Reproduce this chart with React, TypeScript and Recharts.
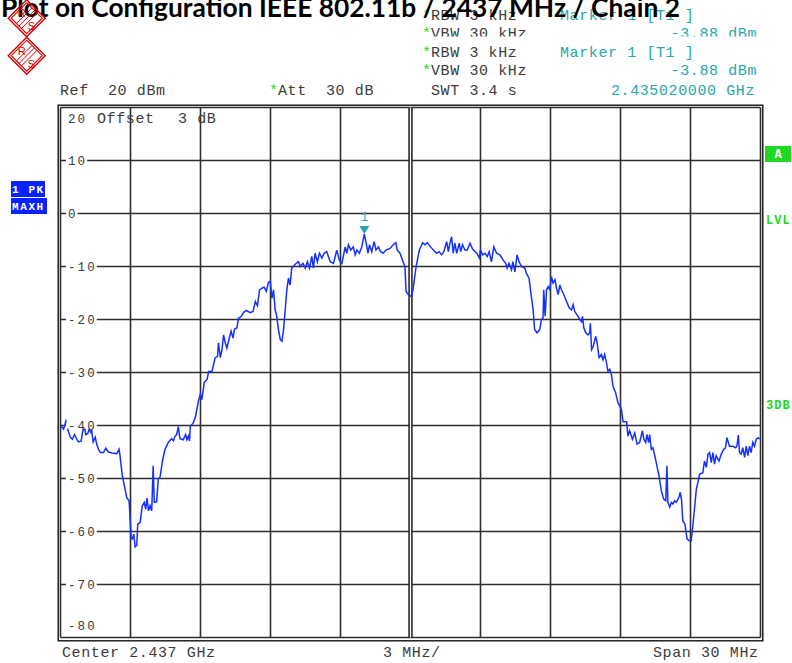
import { LineChart, Line, XAxis, YAxis, CartesianGrid, ReferenceLine, ReferenceDot } from "recharts";

// trace: offset from 2.437 GHz (MHz) and level (dBm)
const freqMHz = [
  -15.0, -14.87, -14.77, -14.69, -14.58, -14.49, -14.4, -14.3, -14.23, -14.11,
  -14.06, -13.97, -13.92, -13.83, -13.77, -13.7, -13.66, -13.6, -13.51, -13.45,
  -13.37, -13.29, -13.16, -13.06, -12.95, -12.8, -12.59, -12.49, -12.45, -12.35,
  -12.26, -12.16, -12.06, -11.97, -11.92, -11.86, -11.8, -11.73, -11.69, -11.59,
  -11.49, -11.41, -11.35, -11.29, -11.23, -11.16, -11.09, -11.03, -10.98, -10.88,
  -10.81, -10.73, -10.63, -10.52, -10.38, -10.24, -10.16, -10.09, -10.02, -9.95,
  -9.88, -9.74, -9.64, -9.58, -9.52, -9.47, -9.44, -9.31, -9.21, -9.09,
  -9.01, -8.94, -8.84, -8.72, -8.65, -8.51, -8.37, -8.27, -8.23, -8.15,
  -8.08, -8.01, -7.94, -7.87, -7.75, -7.69, -7.61, -7.54, -7.44, -7.37,
  -7.27, -7.16, -7.04, -6.87, -6.75, -6.65, -6.56, -6.47, -6.37, -6.27,
  -6.18, -6.09, -6.01, -5.94, -5.87, -5.8, -5.73, -5.66, -5.58, -5.51,
  -5.44, -5.37, -5.3, -5.23, -5.16, -5.09, -5.02, -4.9, -4.8,
  -4.73, -4.61, -4.51, -4.42, -4.33, -4.23, -4.16, -4.09, -3.99, -3.9,
  -3.8, -3.7, -3.59, -3.44, -3.3, -3.16, -3.05, -2.94, -2.8, -2.73,
  -2.66, -2.56, -2.45, -2.37, -2.3, -2.19, -2.09, -1.98, -1.88, -1.82,
  -1.76, -1.66, -1.56, -1.48, -1.38, -1.28, -1.17, -1.05, -0.88, -0.74,
  -0.63, -0.57, -0.45, -0.34, -0.24, -0.19, -0.09, 0.05, 0.12, 0.24,
  0.38, 0.52, 0.62, 0.72, 0.86, 0.98, 1.12, 1.23, 1.33, 1.43,
  1.55, 1.62, 1.69, 1.76, 1.83, 1.9, 1.98, 2.09, 2.15, 2.23,
  2.33, 2.43, 2.55, 2.66, 2.84, 2.95, 3.0, 3.09, 3.19, 3.29,
  3.37, 3.47, 3.57, 3.69, 3.83, 3.97, 4.08, 4.14, 4.22, 4.33,
  4.39, 4.47, 4.57, 4.65, 4.76, 4.9, 4.97, 5.08, 5.18, 5.25,
  5.32, 5.42, 5.54, 5.61, 5.68, 5.71, 5.77, 5.83, 5.9, 5.97,
  6.04, 6.11, 6.19, 6.26, 6.33, 6.4, 6.47, 6.54, 6.69, 6.8,
  6.9, 6.97, 7.04, 7.18, 7.26, 7.33, 7.37, 7.43, 7.51, 7.61,
  7.68, 7.71, 7.76, 7.83, 7.9, 7.94, 8.0, 8.08, 8.18, 8.25,
  8.32, 8.4, 8.46, 8.54, 8.61, 8.68, 8.79, 8.89, 8.97, 9.04,
  9.11, 9.26, 9.32, 9.39, 9.51, 9.61, 9.71, 9.82, 9.94, 10.0,
  10.08, 10.13, 10.21, 10.25, 10.32, 10.39, 10.47, 10.56, 10.65, 10.75,
  10.85, 10.94, 10.99, 11.03, 11.11, 11.18, 11.25, 11.32, 11.39, 11.5,
  11.56, 11.62, 11.67, 11.76, 11.85, 11.93, 12.03, 12.1, 12.17, 12.25,
  12.32, 12.39, 12.53, 12.6, 12.68, 12.75, 12.82, 12.89, 12.96, 13.03,
  13.1, 13.22, 13.32, 13.42, 13.5, 13.56, 13.67, 13.81, 13.93, 13.99,
  14.05, 14.1, 14.17, 14.24, 14.32, 14.39, 14.46, 14.53, 14.6, 14.67,
  14.74, 14.82, 14.9, 14.96,
];

const levelDbm = [
  -40.0, -40.7, -39.2, -40.7, -42.2, -42.6, -41.7, -42.6, -43.1, -42.9,
  -41.3, -40.3, -41.7, -41.5, -40.7, -41.3, -41.0, -43.1, -42.2, -43.5,
  -44.5, -45.1, -45.1, -44.3, -45.0, -45.2, -45.3, -44.5, -45.7, -49.5,
  -51.4, -53.6, -54.2, -61.4, -61.4, -60.5, -62.9, -62.6, -58.6, -58.3,
  -55.1, -54.5, -55.8, -53.7, -56.1, -55.1, -56.1, -47.6, -54.5, -54.4,
  -50.1, -49.7, -46.7, -44.5, -43.2, -42.5, -42.9, -42.0, -41.7, -40.2,
  -42.5, -42.7, -41.7, -42.7, -42.0, -42.9, -40.2, -39.5, -38.2, -35.4,
  -34.1, -35.1, -31.9, -31.3, -29.8, -29.8, -27.2, -27.0, -24.4, -27.2,
  -25.7, -22.9, -24.4, -25.4, -23.2, -22.2, -23.5, -21.8, -21.6, -19.7,
  -19.5, -18.7, -18.3, -18.7, -18.5, -16.6, -17.4, -14.4, -14.1, -13.9,
  -14.7, -13.0, -12.8, -16.0, -14.4, -18.2, -19.4, -21.9, -23.8, -24.1,
  -21.9, -18.2, -14.4, -12.2, -13.5, -10.3, -10.0, -9.4, -9.1,
  -10.0, -9.4, -10.3, -9.1, -10.3, -8.1, -10.3, -7.5, -9.1, -7.5,
  -8.4, -7.5, -7.2, -9.1, -9.4, -6.9, -8.8, -9.4, -6.3, -7.5,
  -5.9, -6.9, -6.3, -7.8, -6.9, -7.5, -6.3, -3.88, -6.0, -7.5,
  -5.9, -7.2, -5.3, -6.9, -6.3, -7.2, -7.5, -6.9, -6.6, -5.9,
  -5.5, -6.9, -7.5, -8.8, -10.0, -14.7, -15.3, -15.7, -14.0, -10.0,
  -6.9, -5.5, -5.9, -5.5, -6.3, -6.9, -7.5, -7.2, -7.8, -7.2,
  -5.3, -7.2, -5.6, -4.4, -7.5, -5.6, -7.5, -5.6, -7.2, -5.9,
  -6.9, -6.9, -5.6, -6.7, -7.5, -8.4, -6.9, -7.8, -7.5, -8.1,
  -7.2, -9.1, -6.3, -7.5, -7.8, -8.8, -9.4, -10.3, -9.4, -10.6,
  -9.1, -11.0, -7.8, -9.1, -10.0, -10.3, -11.3, -12.2, -15.7, -17.9,
  -21.9, -22.5, -21.9, -20.0, -19.7, -14.4, -19.4, -14.4, -13.8, -14.4,
  -11.9, -13.1, -12.5, -14.1, -15.3, -13.5, -14.4, -15.0, -16.6, -17.8,
  -18.2, -17.2, -18.5, -19.4, -20.0, -20.4, -19.4, -21.6, -22.5, -22.9,
  -22.5, -20.7, -25.7, -25.1, -23.8, -23.2, -24.4, -27.2, -26.6, -27.6,
  -26.6, -28.2, -29.8, -29.4, -30.4, -32.6, -33.8, -35.7, -36.3, -37.0,
  -39.3, -39.3, -42.0, -41.0, -42.6, -41.4, -43.5, -43.2, -41.0, -42.6,
  -43.2, -41.7, -43.2, -41.7, -44.5, -44.2, -45.7, -47.6, -49.5, -52.3,
  -53.9, -54.2, -47.6, -54.5, -55.4, -54.5, -54.8, -54.2, -54.5, -53.6,
  -52.6, -54.2, -58.0, -58.6, -61.4, -61.7, -61.7, -58.9, -55.8, -52.0,
  -50.7, -49.2, -48.9, -46.7, -47.9, -45.4, -45.1, -47.0, -45.1, -47.3,
  -45.7, -46.7, -45.4, -44.5, -44.2, -42.3, -43.9, -43.9, -44.2, -43.9,
  -41.8, -45.1, -45.4, -44.2, -46.0, -43.9, -45.7, -43.9, -45.1, -43.2,
  -43.9, -42.6, -42.3, -42.6,
];

const freqTicks = [-15, -12, -9, -6, -3, 0, 3, 6, 9, 12, 15];
const levelTicks = [20, 10, 0, -10, -20, -30, -40, -50, -60, -70, -80];
const markerFreq = -1.98;
const markerLevel = -3.88;

const MONO = '"Liberation Mono", "DejaVu Sans Mono", monospace';
const GRAY = "#3c3c3c";
const TEAL = "#26a8aa";
const GREEN = "#20d820";
const BLUE = "#0a22ff";
const RS_RED = "#d40000";

// analyzer font: every character takes 9.6 px, spaces kept as typed
function mono(size: number) {
  return {
    fontFamily: MONO,
    fontSize: size,
    letterSpacing: 9.6 - size * 0.6,
    xmlSpace: "preserve",
    style: { whiteSpace: "pre" as const },
  };
}

function LevelTick(props: any) {
  const { y, payload } = props;
  const v = payload.value as number;
  const label = String(v);
  const edge = v === 20 || v === -80;
  const ty = v === 20 ? y + 11 : v === -80 ? y - 11.5 : y;
  return (
    <g>
      {!edge && <rect x={66} y={y - 3} width={label.length * 9.6 + 2} height={6} fill="#fff" />}
      <text x={68} y={ty + 4} fill={GRAY} {...mono(12.5)}>
        {label}
      </text>
    </g>
  );
}

function MarkerGlyph({ cx, cy }: { cx: number; cy: number }) {
  return (
    <g>
      <polygon points={`${cx - 5},${cy - 8} ${cx + 5},${cy - 8} ${cx},${cy}`} fill={TEAL} />
      <text x={cx} y={cy - 13} textAnchor="middle" fill={TEAL} fontFamily={MONO} fontSize={12}>
        1
      </text>
    </g>
  );
}

function RsLogo({ cx, cy }: { cx: number; cy: number }) {
  const d = (s: number) => `${cx},${cy - s} ${cx + s},${cy} ${cx},${cy + s} ${cx - s},${cy}`;
  return (
    <g stroke={RS_RED} fill="none">
      <polygon points={d(18.5)} strokeWidth={1.4} />
      <polygon points={d(15.5)} strokeWidth={1.1} />
      {[-2.5, 0, 2.5].map((o) => (
        <line key={o} x1={cx + 8 + o} y1={cy - 8 + o} x2={cx - 8 + o} y2={cy + 8 + o} strokeWidth={1} />
      ))}
      <text x={cx - 9} y={cy - 1} fill={RS_RED} stroke="none" fontSize={11} fontFamily="Liberation Sans, sans-serif">
        R
      </text>
      <text x={cx + 1} y={cy + 12} fill={RS_RED} stroke="none" fontSize={11} fontFamily="Liberation Sans, sans-serif">
        S
      </text>
    </g>
  );
}

function SettingLines({ top }: { top: number }) {
  return (
    <g>
      <text x={422} y={top} fill={GREEN} {...mono(15)}>*</text>
      <text x={431} y={top} fill={GRAY} {...mono(15)}>RBW 3 kHz</text>
      <text x={560} y={top} fill={TEAL} {...mono(15)}>Marker 1 [T1 ]</text>
      <text x={422} y={top + 18} fill={GREEN} {...mono(15)}>*</text>
      <text x={431} y={top + 18} fill={GRAY} {...mono(15)}>VBW 30 kHz</text>
      <text x={757} y={top + 18} fill={TEAL} textAnchor="end" {...mono(15)}>-3.88 dBm</text>
    </g>
  );
}

export default function App() {
  const n = Math.min(freqMHz.length, levelDbm.length);
  const trace = freqMHz.slice(0, n).map((f, i) => ({ f, level: levelDbm[i] }));

  return (
    <div style={{ position: "relative", width: 792, height: 663, background: "#fff", overflow: "hidden" }}>
      <style>{"body{margin:0}"}</style>
      <LineChart
        width={792}
        height={663}
        data={trace}
        margin={{ top: 107.5, right: 31.5, bottom: 24.5, left: 59.5 }}
        style={{ position: "absolute", left: 0, top: 0 }}
      >
        <CartesianGrid stroke="#2e2e2e" strokeWidth={1.6} />
        <XAxis
          type="number"
          dataKey="f"
          domain={[-15, 15]}
          ticks={freqTicks}
          interval={0}
          allowDataOverflow
          height={1}
          axisLine={false}
          tickLine={false}
          tick={() => <g />}
        />
        <YAxis
          type="number"
          domain={[-80, 20]}
          ticks={levelTicks}
          interval={0}
          allowDataOverflow
          width={1}
          axisLine={false}
          tickLine={false}
          tick={(p: any) => <LevelTick {...p} />}
        />
        <ReferenceLine x={0} stroke="#222" strokeWidth={4.4} />
        <ReferenceLine x={0} stroke="#fff" strokeWidth={1.3} />
        <Line
          type="linear"
          dataKey="level"
          stroke="#1430ff"
          strokeWidth={1.5}
          dot={false}
          isAnimationActive={false}
        />
        <ReferenceDot
          x={markerFreq}
          y={markerLevel}
          ifOverflow="visible"
          shape={(p: any) => <MarkerGlyph cx={p.cx} cy={p.cy} />}
        />
      </LineChart>

      <svg
        width={792}
        height={663}
        style={{ position: "absolute", left: 0, top: 0, pointerEvents: "none" }}
      >
        {/* outer frame of the screen */}
        <rect x={58.2} y={105.2} width={704.6} height={535.6} fill="none" stroke="#111" strokeWidth={1.4} />

        {/* ghost copy of the settings block, cut off */}
        <SettingLines top={20} />
        <rect x={415} y={36.5} width={350} height={8} fill="#fff" />
        <SettingLines top={57} />

        <text x={60} y={95} fill={GRAY} {...mono(15)}>Ref  20 dBm</text>
        <text x={269} y={95} fill={GREEN} {...mono(15)}>*</text>
        <text x={278} y={95} fill={GRAY} {...mono(15)}>Att  30 dB</text>
        <text x={431} y={95} fill={GRAY} {...mono(15)}>SWT 3.4 s</text>
        <text x={755} y={95} fill={TEAL} textAnchor="end" {...mono(15)}>2.435020000 GHz</text>

        <text x={97} y={122.5} fill={GRAY} {...mono(15)}>Offset</text>
        <text x={178} y={122.5} fill={GRAY} {...mono(15)}>3 dB</text>

        <text x={62} y={657} fill={GRAY} {...mono(15)}>Center 2.437 GHz</text>
        <text x={383} y={657} fill={GRAY} {...mono(15)}>3 MHz/</text>
        <text x={653} y={657} fill={GRAY} {...mono(15)}>Span 30 MHz</text>

        <rect x={11} y={181} width={34} height={16} fill={BLUE} />
        <text x={12} y={193} fill="#fff" fontWeight={700} fontFamily={MONO} fontSize={11} letterSpacing={1.6} xmlSpace="preserve" style={{ whiteSpace: "pre" }}>1 PK</text>
        <rect x={11} y={198} width={36} height={16} fill={BLUE} />
        <text x={12} y={210} fill="#fff" fontWeight={700} fontFamily={MONO} fontSize={11} letterSpacing={1.6}>MAXH</text>

        <rect x={765} y={146} width={26} height={16} fill={GREEN} />
        <text x={778} y={158} fill="#fff" textAnchor="middle" fontWeight={700} fontFamily={MONO} fontSize={12}>A</text>
        <text x={766} y={224} fill={GREEN} fontWeight={700} fontFamily={MONO} fontSize={12} letterSpacing={1}>LVL</text>
        <text x={766} y={409} fill={GREEN} fontWeight={700} fontFamily={MONO} fontSize={12} letterSpacing={1}>3DB</text>

        <text
          x={1}
          y={17}
          fill="#000"
          fontFamily="Lato, 'DejaVu Sans', sans-serif"
          fontWeight={700}
          fontSize={27}
          textLength={679}
          lengthAdjust="spacingAndGlyphs"
        >
          Plot on Configuration IEEE 802.11b / 2437 MHz / Chain 2
        </text>

        <RsLogo cx={26.7} cy={18.2} />
        <RsLogo cx={26.7} cy={55.7} />
      </svg>
    </div>
  );
}
